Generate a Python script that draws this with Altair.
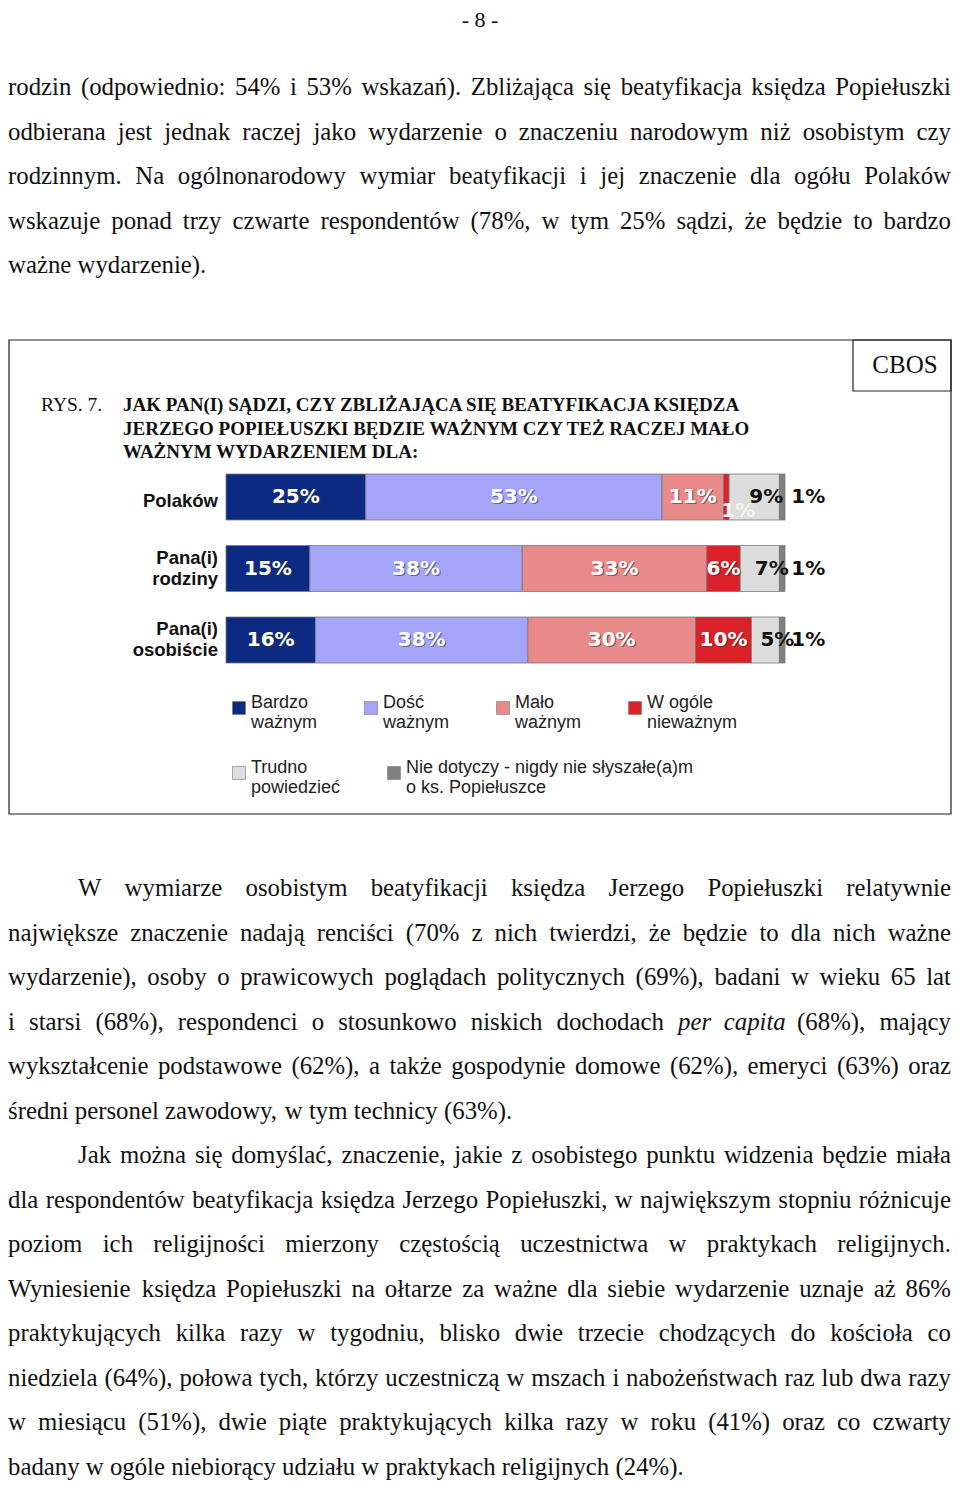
import altair as alt
import pandas as pd

# ---------------- data ----------------
categories = ["Polaków", "Pana(i) rodziny", "Pana(i) osobiście"]
category_labels = ["Polaków", "Pana(i)|rodziny", "Pana(i)|osobiście"]
responses = [
    "Bardzo|ważnym",
    "Dość|ważnym",
    "Mało|ważnym",
    "W ogóle|nieważnym",
    "Trudno|powiedzieć",
    "Nie dotyczy - nigdy nie słyszałe(a)m|o ks. Popiełuszce",
]
colors = ["#0c2a82", "#a4a4f8", "#e98a8a", "#da2228", "#dddddd", "#808080"]
values_polakow = [25, 53, 11, 1, 9, 1]
values_rodziny = [15, 38, 33, 6, 7, 1]
values_osobiscie = [16, 38, 30, 10, 5, 1]

page_number = "- 8 -"
fig_label = "RYS. 7."
fig_title = ("JAK PAN(I) SĄDZI, CZY ZBLIŻAJĄCA SIĘ BEATYFIKACJA KSIĘDZA|"
             "JERZEGO POPIEŁUSZKI BĘDZIE WAŻNYM CZY TEŻ RACZEJ MAŁO|"
             "WAŻNYM WYDARZENIEM DLA:")
source_label = "CBOS"

text_top = [
    "rodzin (odpowiednio: 54% i 53% wskazań). Zbliżająca się beatyfikacja księdza Popiełuszki",
    "odbierana jest jednak raczej jako wydarzenie o znaczeniu narodowym niż osobistym czy",
    "rodzinnym. Na ogólnonarodowy wymiar beatyfikacji i jej znaczenie dla ogółu Polaków",
    "wskazuje ponad trzy czwarte respondentów (78%, w tym 25% sądzi, że będzie to bardzo",
    "ważne wydarzenie).",
]
text_bottom = [
    "W wymiarze osobistym beatyfikacji księdza Jerzego Popiełuszki relatywnie",
    "największe znaczenie nadają renciści (70% z nich twierdzi, że będzie to dla nich ważne",
    "wydarzenie), osoby o prawicowych poglądach politycznych (69%), badani w wieku 65 lat",
    "i starsi (68%), respondenci o stosunkowo niskich dochodach per capita (68%), mający",
    "wykształcenie podstawowe (62%), a także gospodynie domowe (62%), emeryci (63%) oraz",
    "średni personel zawodowy, w tym technicy (63%).",
    "Jak można się domyślać, znaczenie, jakie z osobistego punktu widzenia będzie miała",
    "dla respondentów beatyfikacja księdza Jerzego Popiełuszki, w największym stopniu różnicuje",
    "poziom ich religijności mierzony częstością uczestnictwa w praktykach religijnych.",
    "Wyniesienie księdza Popiełuszki na ołtarze za ważne dla siebie wydarzenie uznaje aż 86%",
    "praktykujących kilka razy w tygodniu, blisko dwie trzecie chodzących do kościoła co",
    "niedziela (64%), połowa tych, którzy uczestniczą w mszach i nabożeństwach raz lub dwa razy",
    "w miesiącu (51%), dwie piąte praktykujących kilka razy w roku (41%) oraz co czwarty",
    "badany w ogóle niebiorący udziału w praktykach religijnych (24%).",
]
top_paragraph_starts = []          # the top block continues a paragraph
top_paragraph_ends = [4]
bottom_paragraph_starts = [0, 6]
bottom_paragraph_ends = [5, 13]
bottom_first_slot = 18
italic_words = ["per", "capita"]

# ---------------- text layout helpers (Times metrics, em units) ----------------
_w = {
    "a": .444, "b": .5, "c": .444, "d": .5, "e": .444, "f": .333, "g": .5, "h": .5,
    "i": .278, "j": .278, "k": .5, "l": .278, "m": .778, "n": .5, "o": .5, "p": .5,
    "q": .5, "r": .333, "s": .389, "t": .278, "u": .5, "v": .5, "w": .722, "x": .5,
    "y": .5, "z": .444,
    "A": .722, "B": .667, "C": .667, "D": .722, "E": .611, "F": .556, "G": .722,
    "H": .722, "I": .333, "J": .389, "K": .722, "L": .611, "M": .889, "N": .722,
    "O": .722, "P": .556, "Q": .722, "R": .667, "S": .556, "T": .611, "U": .722,
    "V": .722, "W": .944, "X": .722, "Y": .722, "Z": .611,
    "%": .833, "(": .333, ")": .333, ",": .25, ".": .25, ":": .278, "-": .333,
}
_diac = {"ą": "a", "ę": "e", "ł": "l", "ś": "s", "ć": "c", "ż": "z", "ź": "z",
         "ń": "n", "ó": "o", "Ł": "L", "Ś": "S", "Ż": "Z"}
SPACE = 0.25


def word_em(word):
    return sum(_w.get(_diac.get(ch, ch), 0.5) for ch in word)


FS = 24.8                 # body font size (px)
LINE_PX = 943.0           # text column width (px)
INDENT_PX = 70.0
LINE_EM = LINE_PX / FS

word_rows = []


def layout(lines, first_slot, starts, ends):
    for i, line in enumerate(lines):
        words = line.split(" ")
        indent = INDENT_PX / FS if i in starts else 0.0
        widths = [word_em(w) for w in words]
        if i in ends or len(words) == 1:
            gap = SPACE
        else:
            gap = (LINE_EM - indent - sum(widths)) / (len(words) - 1)
        x = indent
        for w, wd in zip(words, widths):
            word_rows.append({"slot": first_slot + i, "xem": x, "word": w,
                              "italic": w in italic_words})
            x += wd + gap


layout(text_top, 0, top_paragraph_starts, top_paragraph_ends)
layout(text_bottom, bottom_first_slot, bottom_paragraph_starts, bottom_paragraph_ends)
words_df = pd.DataFrame(word_rows)

# ---------------- tables ----------------
rows = []
for cat, vals in zip(categories, [values_polakow, values_rodziny, values_osobiscie]):
    for i, (resp, v) in enumerate(zip(responses, vals)):
        rows.append({"category": cat, "response": resp, "idx": i, "value": v,
                     "label": f"{v}%"})
df = pd.DataFrame(rows)
cat_df = pd.DataFrame({"category": categories, "label": category_labels})
one = pd.DataFrame({"k": [0]})

# ---------------- bar chart ----------------
x_scale = alt.Scale(domain=[0, 100], range=[218, 777], nice=False, zero=False)
y_scale = alt.Scale(domain=categories, range=[466, 655], paddingInner=0.357, paddingOuter=0)

base = (alt.Chart(df)
        .transform_stack(stack="value", groupby=["category"],
                         sort=[alt.SortField("idx")], as_=["x0", "x1"])
        .transform_calculate(mid="(datum.x0 + datum.x1) / 2"))

X = alt.X("x0:Q", scale=x_scale, axis=None)
X2 = alt.X2("x1:Q")
Y = alt.Y("category:N", scale=y_scale, axis=None)
XM = alt.X("mid:Q", scale=x_scale, axis=None)

legend_common = dict(
    orient="none", legendX=222, direction="horizontal", columns=4, title=None,
    padding=0, symbolType="square", symbolSize=169, symbolStrokeWidth=0.6,
    symbolStrokeColor="#777777", symbolOpacity=1, labelFont="Liberation Sans",
    labelFontSize=18, labelColor="#222222", labelOffset=3, labelLimit=500,
    labelBaseline="alphabetic", labelExpr="split(datum.label, '|')", columnPadding=44,
)

bars_main = base.transform_filter("datum.idx <= 3").mark_bar(
    stroke="#7a7a7a", strokeWidth=0.8).encode(
    x=X, x2=X2, y=Y,
    color=alt.Color("response:N",
                    scale=alt.Scale(domain=responses[:4], range=colors[:4]),
                    legend=alt.Legend(legendY=691, **legend_common)),
)
bars_rest = base.transform_filter("datum.idx >= 4").mark_bar(
    stroke="#7a7a7a", strokeWidth=0.8).encode(
    x=X, x2=X2, y=Y,
    fill=alt.Fill("response:N",
                  scale=alt.Scale(domain=responses[4:], range=colors[4:]),
                  legend=alt.Legend(legendY=756, **legend_common)),
)

lab_font = dict(font="DejaVu Sans", fontWeight="bold", fontSize=20, baseline="middle")

white_cond = "datum.idx <= 2 || (datum.idx == 3 && datum.category != 'Polaków')"
shadow = base.transform_filter(white_cond).mark_text(
    color="#333333", opacity=0.55, dx=1.2, dy=1.2, **lab_font).encode(x=XM, y=Y, text="label:N")
white = base.transform_filter(white_cond).mark_text(
    color="#ffffff", **lab_font).encode(x=XM, y=Y, text="label:N")

pol_small_cond = "datum.idx == 3 && datum.category == 'Polaków'"
pol_small = base.transform_filter(pol_small_cond).mark_text(
    color="#f4f4f4", dx=12, dy=14, **lab_font).encode(x=XM, y=Y, text="label:N")

trudno = base.transform_filter("datum.idx == 4").mark_text(
    color="#111111", dx=12, **lab_font).encode(x=XM, y=Y, text="label:N")
nie = base.transform_filter("datum.idx == 5").mark_text(
    color="#111111", dx=26, **lab_font).encode(x=XM, y=Y, text="label:N")

cat_style = dict(align="right", baseline="middle", lineBreak="|", lineHeight=21,
                 font="Liberation Sans", fontWeight="bold", fontSize=18.5, color="#111111")
cat_single = alt.Chart(cat_df).transform_filter("indexof(datum.label, '|') < 0").mark_text(
    dy=4, **cat_style
).encode(x=alt.value(210), y=alt.Y("category:N", scale=y_scale, axis=None), text="label:N")
cat_multi = alt.Chart(cat_df).transform_filter("indexof(datum.label, '|') >= 0").mark_text(
    dy=-11, **cat_style
).encode(x=alt.value(210), y=alt.Y("category:N", scale=y_scale, axis=None), text="label:N")

bar_block = alt.layer(bars_main, bars_rest, shadow, white, pol_small, trudno, nie,
                      cat_single, cat_multi)

# ---------------- page elements ----------------
body_x = alt.X("xem:Q", scale=alt.Scale(domain=[0, LINE_EM], range=[0, LINE_PX],
                                        nice=False, zero=False), axis=None)
body_y = alt.Y("slot:Q", scale=alt.Scale(domain=[0, 31], range=[80, 1460],
                                         nice=False, zero=False), axis=None)
body_style = dict(align="left", baseline="middle", font="Liberation Serif",
                  fontSize=FS, color="#111111")
body = alt.Chart(words_df).transform_filter("!datum.italic").mark_text(**body_style).encode(
    x=body_x, y=body_y, text="word:N")
body_it = alt.Chart(words_df).transform_filter("datum.italic").mark_text(
    fontStyle="italic", **body_style).encode(x=body_x, y=body_y, text="word:N")

page_no = alt.Chart(one).mark_text(
    align="center", baseline="top", font="Liberation Serif", fontSize=22, color="#111111"
).encode(x=alt.value(472), y=alt.value(2), text=alt.value(page_number))

frame = alt.Chart(one).mark_rect(fill="transparent", stroke="#222222", strokeWidth=1.2).encode(
    x=alt.value(1), x2=alt.value(943), y=alt.value(332), y2=alt.value(806))
cbos_box = alt.Chart(one).mark_rect(fill="transparent", stroke="#222222", strokeWidth=1.2).encode(
    x=alt.value(845), x2=alt.value(943), y=alt.value(332), y2=alt.value(383))
cbos_text = alt.Chart(one).mark_text(
    align="center", baseline="middle", font="Liberation Serif", fontSize=25, color="#111111"
).encode(x=alt.value(897), y=alt.value(357), text=alt.value(source_label))

rys = alt.Chart(one).mark_text(
    align="left", baseline="alphabetic", font="Liberation Serif", fontSize=19.5, color="#111111"
).encode(x=alt.value(33), y=alt.value(403), text=alt.value(fig_label))
title = alt.Chart(one).mark_text(
    align="left", baseline="alphabetic", font="Liberation Serif", fontSize=19,
    fontWeight="bold", lineBreak="|", lineHeight=23.5, color="#111111"
).encode(x=alt.value(115), y=alt.value(403), text=alt.value(fig_title))

chart = (
    alt.layer(bar_block, body, body_it, page_no, frame, cbos_box, cbos_text, rys, title)
    .resolve_scale(x="independent", y="independent")
    .properties(width=944, height=1472, padding=0,
                autosize=alt.AutoSizeParams(type="none"))
    .configure_view(stroke="transparent", strokeWidth=0)
    .configure_axis(domain=False, ticks=False, labels=False, grid=False)
    .configure(background="#ffffff",
               style={"cell": {"stroke": "transparent", "strokeWidth": 0}})
)

chart.save("out.html", embed_options={"renderer": "svg", "actions": False})
